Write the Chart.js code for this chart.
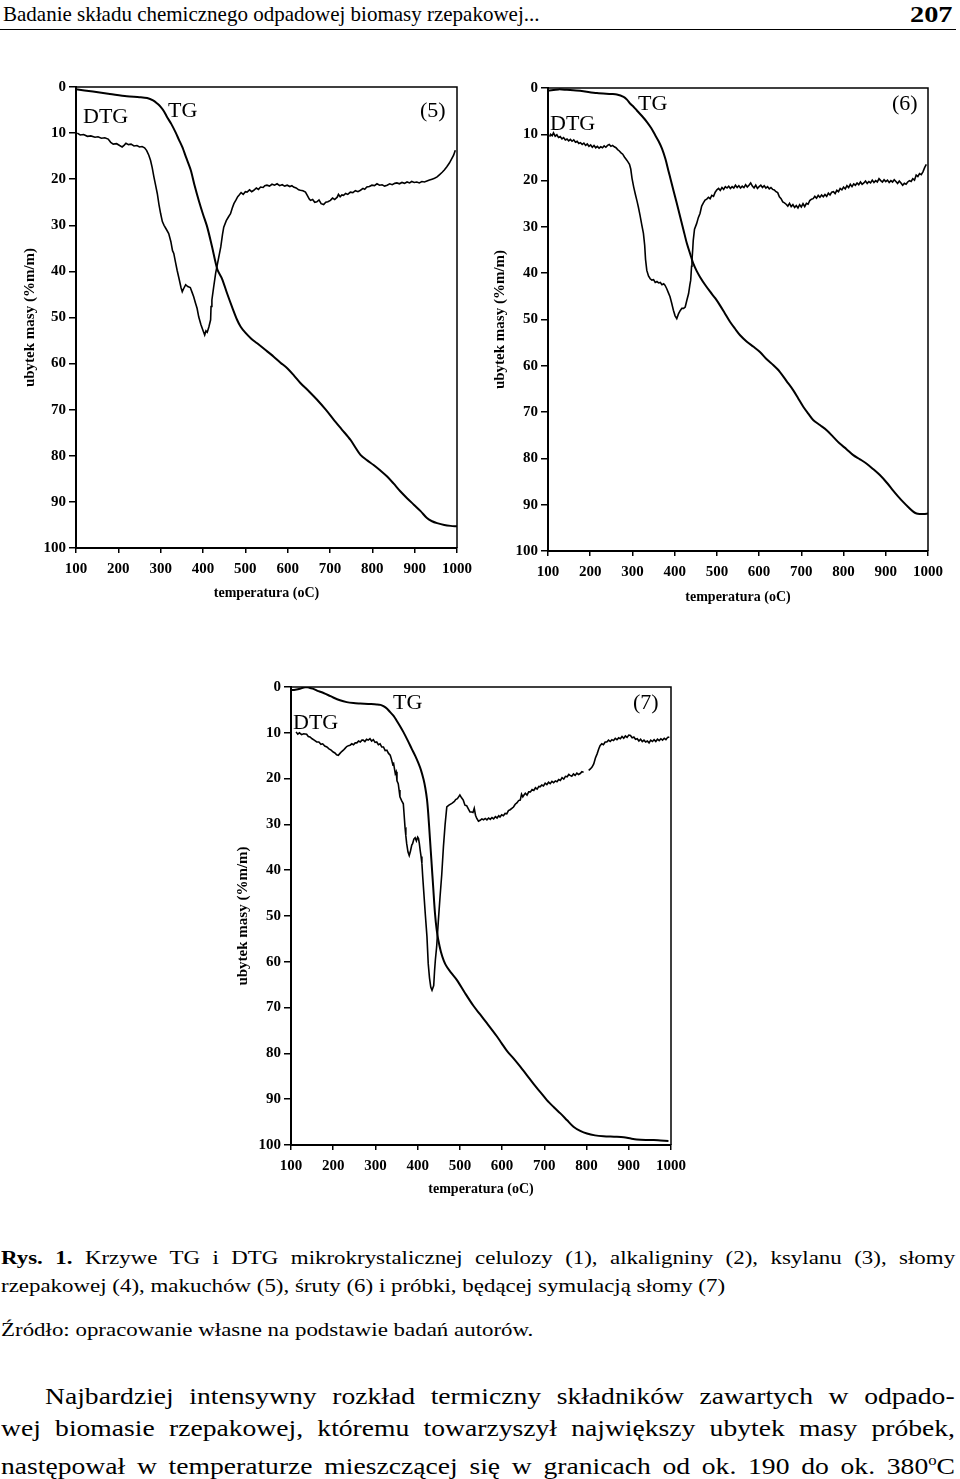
<!DOCTYPE html>
<html>
<head>
<meta charset="utf-8">
<script src="https://cdn.jsdelivr.net/npm/chart.js"></script>
<style>
  html, body { margin: 0; padding: 0; background: #fff; }
  body { width: 960px; height: 1479px; position: relative; overflow: hidden; font-family: "Liberation Serif", "Times New Roman", serif; color: #000; }
  .abs { position: absolute; white-space: nowrap; }
  canvas { position: absolute; }
  .lbl { position: absolute; font-size: 22px; line-height: 22px; white-space: nowrap; }
  #rule { position: absolute; left: 0; top: 29px; width: 956px; height: 0; border-top: 1.5px solid #000; }
  .cap { position: absolute; left: 1px; width: 812px; font-size: 19.5px; line-height: 22px; white-space: nowrap; transform: scaleX(1.175); transform-origin: 0 0; }
  .par { position: absolute; font-size: 23px; line-height: 26px; white-space: nowrap; transform: scaleX(1.2); transform-origin: 0 0; }
  .just { text-align: justify; text-align-last: justify; }
</style>
</head>
<body>
<div class="abs" style="left:3px;top:2px;font-size:21px;line-height:24px;">Badanie składu chemicznego odpadowej biomasy rzepakowej...</div>
<div class="abs" style="left:910px;top:1px;font-size:24px;line-height:27px;font-weight:bold;transform:scaleX(1.18);transform-origin:0 0;">207</div>
<div id="rule"></div>

<canvas id="c5" width="480" height="560" style="left:0px;top:60px;"></canvas>
<canvas id="c6" width="480" height="560" style="left:480px;top:60px;"></canvas>
<canvas id="c7" width="500" height="560" style="left:200px;top:660px;"></canvas>

<div class="lbl" style="left:83px;top:105px;">DTG</div>
<div class="lbl" style="left:168px;top:99px;">TG</div>
<div class="lbl" style="left:420px;top:99px;">(5)</div>

<div class="lbl" style="left:550px;top:112px;">DTG</div>
<div class="lbl" style="left:638px;top:92px;">TG</div>
<div class="lbl" style="left:892px;top:92px;">(6)</div>

<div class="lbl" style="left:293px;top:711px;">DTG</div>
<div class="lbl" style="left:393px;top:691px;">TG</div>
<div class="lbl" style="left:633px;top:691px;">(7)</div>

<div class="cap just" style="top:1247px;"><b>Rys. 1.</b> Krzywe TG i DTG mikrokrystalicznej celulozy (1), alkaligniny (2), ksylanu (3), słomy</div>
<div class="cap" style="top:1275px;">rzepakowej (4), makuchów (5), śruty (6) i próbki, będącej symulacją słomy (7)</div>
<div class="cap" style="top:1319px;">Źródło: opracowanie własne na podstawie badań autorów.</div>
<div class="par just" style="left:45px;top:1384px;width:758px;">Najbardziej intensywny rozkład termiczny składników zawartych w odpado-</div>
<div class="par just" style="left:1px;top:1416px;width:795px;">wej biomasie rzepakowej, któremu towarzyszył największy ubytek masy próbek,</div>
<div class="par just" style="left:1px;top:1448px;width:795px;">następował w temperaturze mieszczącej się w granicach od ok. 190 do ok. 380<sup style="font-size:14px;">o</sup>C</div>

<script>
// tick labels
const tempTicks = [100, 200, 300, 400, 500, 600, 700, 800, 900, 1000];
const lossTicks = [0, 10, 20, 30, 40, 50, 60, 70, 80, 90, 100];

// (5) makuchy
const tg5Temp = [100, 140, 180, 220, 250, 268, 282, 292, 300, 308, 315, 325, 335, 343, 351, 361, 371, 380, 390, 400, 410, 421, 434, 445, 457, 469, 481, 489, 500, 514, 528, 547, 567, 583, 599, 615, 630, 650, 670, 690, 709, 728, 748, 760, 772, 788, 803, 819, 835, 850, 866, 882, 898, 914, 929, 941, 953, 970, 985, 1000];
const tg5Loss = [0.5, 1.0, 1.5, 2.0, 2.2, 2.4, 2.9, 3.6, 4.3, 5.3, 6.5, 8.0, 9.8, 11.4, 13.0, 15.5, 18.0, 21.3, 24.6, 27.6, 30.4, 34.5, 39.6, 41.6, 44.8, 47.8, 50.6, 52.0, 53.3, 54.6, 55.6, 57.0, 58.5, 59.8, 61.0, 62.6, 64.2, 66.0, 67.9, 70.0, 72.2, 74.3, 76.5, 78.2, 79.8, 81.0, 82.0, 83.2, 84.5, 86.0, 87.7, 89.2, 90.6, 92.0, 93.5, 94.2, 94.6, 95.0, 95.2, 95.3];
const dtg5Temp = [103, 110, 118, 127, 135, 145, 152, 160, 168, 176, 182, 188, 196, 203, 209, 214, 218, 224, 230, 237, 244, 250, 256, 262, 267, 272, 276, 280, 284, 288, 292, 296, 300, 304, 308, 313, 319, 324, 328, 331, 335, 339, 344, 348, 351, 355, 359, 364, 370, 374, 378, 382, 386, 390, 395, 400, 404, 407, 410, 414, 418, 419, 421, 425, 430, 436, 442, 446, 449, 455, 460, 465, 469, 473, 478, 482, 485, 490, 495, 500, 504, 510, 515, 520, 526, 531, 536, 542, 546, 551, 557, 563, 569, 575, 581, 587, 593, 599, 605, 610, 614, 620, 626, 630, 636, 642, 647, 651, 654, 659, 664, 669, 674, 679, 685, 690, 695, 701, 706, 711, 717, 720, 724, 728, 732, 737, 742, 748, 754, 760, 766, 772, 778, 782, 787, 793, 799, 805, 811, 817, 823, 829, 835, 841, 847, 853, 858, 864, 870, 876, 882, 888, 893, 899, 905, 911, 917, 923, 929, 935, 941, 947, 953, 959, 965, 970, 976, 982, 988, 992, 996];
const dtg5Loss = [10.0, 10.4, 10.3, 10.7, 10.6, 10.9, 10.8, 11.1, 11.0, 11.3, 12.0, 12.4, 12.3, 12.7, 13.0, 12.6, 12.2, 12.5, 12.4, 12.8, 12.7, 13.0, 12.9, 13.2, 13.8, 14.8, 15.9, 17.5, 19.5, 21.3, 23.1, 25.5, 27.5, 29.2, 30.0, 30.8, 31.8, 33.5, 35.5, 36.1, 38.0, 39.8, 41.8, 43.5, 44.4, 43.6, 42.9, 43.3, 43.5, 44.5, 45.5, 46.8, 48.0, 49.9, 51.5, 52.8, 53.8, 52.9, 53.2, 52.0, 50.5, 47.6, 46.2, 43.5, 40.3, 37.5, 34.7, 32.0, 30.4, 29.0, 28.2, 27.5, 26.3, 25.3, 24.5, 23.8, 23.5, 22.9, 23.3, 22.7, 22.8, 22.3, 22.7, 22.4, 21.9, 22.2, 21.7, 21.8, 21.4, 21.3, 21.5, 21.1, 21.3, 21.0, 21.4, 21.2, 21.5, 21.3, 21.6, 21.4, 21.7, 21.9, 22.3, 22.4, 22.5, 22.8, 23.6, 24.3, 24.6, 24.4, 25.0, 24.9, 24.5, 25.3, 25.5, 25.0, 24.9, 24.6, 24.1, 24.4, 23.9, 23.3, 23.8, 23.4, 23.5, 23.1, 23.3, 22.8, 22.9, 22.5, 22.7, 22.4, 22.0, 22.2, 21.7, 21.6, 21.3, 21.4, 21.0, 21.3, 21.2, 21.5, 21.3, 21.0, 21.2, 20.9, 20.8, 21.0, 20.7, 20.9, 20.6, 20.8, 20.5, 20.7, 20.6, 20.8, 20.5, 20.6, 20.4, 20.2, 20.0, 19.8, 19.5, 19.0, 18.5, 18.0, 17.3, 16.5, 15.5, 14.8, 13.7];

// (6) śruta
const tg6Temp = [100, 125, 145, 176, 216, 250, 263, 279, 287, 295, 303, 310, 322, 334, 344, 354, 362, 370, 378, 385, 391, 397, 405, 413, 421, 429, 437, 444, 452, 460, 472, 484, 496, 507, 519, 531, 543, 555, 571, 587, 602, 618, 634, 649, 665, 681, 693, 705, 717, 728, 744, 760, 776, 791, 807, 823, 839, 854, 870, 886, 902, 917, 929, 941, 953, 965, 973, 980, 990, 1000];
const tg6Loss = [0.6, 0.3, 0.4, 0.6, 1.1, 1.3, 1.4, 1.9, 2.5, 3.4, 4.1, 4.8, 6.0, 7.3, 8.6, 10.2, 11.5, 13.1, 15.3, 17.8, 19.9, 22.1, 24.9, 27.8, 30.7, 33.6, 35.9, 37.9, 39.5, 40.8, 42.5, 44.0, 45.4, 46.9, 48.7, 50.5, 52.0, 53.4, 54.8, 55.9, 57.0, 58.6, 59.9, 61.3, 63.3, 65.3, 67.1, 68.9, 70.4, 71.7, 72.8, 73.9, 75.4, 76.8, 78.0, 79.3, 80.2, 81.1, 82.3, 83.6, 85.2, 86.9, 88.2, 89.4, 90.5, 91.5, 91.9, 92.0, 92.0, 91.9];
const dtg6Temp = [104, 106, 110, 113, 117, 121, 125, 129, 133, 137, 141, 145, 149, 153, 157, 161, 165, 169, 173, 177, 181, 185, 189, 193, 197, 201, 205, 209, 213, 217, 221, 225, 229, 233, 237, 241, 245, 249, 253, 257, 261, 265, 269, 273, 277, 281, 285, 289, 293, 296, 299, 303, 307, 311, 314, 318, 322, 326, 329, 331, 334, 338, 342, 346, 350, 354, 358, 362, 366, 370, 374, 377, 381, 385, 389, 393, 397, 401, 405, 409, 413, 417, 421, 425, 429, 433, 436, 438, 440, 441, 443, 444, 447, 452, 456, 460, 464, 468, 472, 476, 480, 484, 488, 492, 496, 500, 504, 508, 512, 516, 520, 524, 528, 532, 536, 540, 544, 548, 552, 556, 560, 564, 568, 572, 576, 580, 584, 588, 592, 596, 600, 604, 608, 612, 616, 620, 624, 628, 632, 636, 640, 644, 648, 652, 656, 660, 664, 668, 672, 676, 680, 684, 688, 692, 696, 700, 704, 708, 712, 716, 720, 724, 728, 732, 736, 740, 744, 748, 752, 756, 760, 764, 768, 772, 776, 780, 784, 788, 792, 796, 800, 804, 808, 812, 816, 820, 824, 828, 832, 836, 840, 844, 848, 852, 856, 860, 864, 868, 872, 876, 880, 884, 888, 892, 896, 900, 904, 908, 912, 916, 920, 924, 928, 932, 936, 940, 944, 948, 952, 956, 960, 964, 968, 972, 976, 980, 984, 988, 992, 996];
const dtg6Loss = [10.5, 10.0, 10.3, 9.7, 10.4, 10.1, 10.7, 10.5, 11.0, 10.7, 11.2, 11.0, 11.4, 11.1, 11.5, 11.2, 11.7, 11.5, 12.0, 11.8, 12.2, 11.9, 12.4, 12.1, 12.6, 12.3, 12.8, 12.4, 12.9, 12.6, 13.0, 12.7, 12.9, 12.5, 12.8, 12.4, 12.2, 12.6, 12.4, 12.7, 12.9, 13.3, 13.6, 14.0, 14.3, 14.9, 15.4, 15.9, 16.5, 17.5, 19.5, 21.4, 23.0, 24.5, 25.7, 27.5, 29.5, 31.4, 34.0, 37.0, 39.4, 40.6, 41.2, 41.5, 41.4, 42.0, 41.8, 42.1, 42.0, 42.5, 42.3, 42.6, 43.3, 44.2, 45.1, 46.5, 48.0, 49.2, 49.8, 48.8, 48.1, 47.6, 47.6, 47.3, 45.8, 44.4, 42.5, 41.5, 38.5, 37.2, 34.5, 32.9, 30.5, 29.3, 28.0, 27.1, 25.5, 24.8, 24.2, 24.0, 23.6, 23.9, 23.2, 23.4, 22.5, 22.0, 21.7, 22.1, 21.5, 21.9, 21.3, 21.6, 21.2, 21.7, 21.3, 21.6, 21.0, 21.5, 21.1, 21.6, 21.2, 21.5, 20.9, 21.4, 21.0, 20.5, 21.2, 21.6, 21.0, 21.7, 21.3, 21.0, 21.5, 21.1, 21.6, 21.3, 21.8, 21.5, 21.9, 22.0, 22.4, 22.6, 23.5, 23.9, 24.6, 24.8, 25.1, 25.5, 24.9, 25.6, 25.2, 25.8, 25.4, 25.9, 25.2, 25.7, 25.0, 25.6, 24.9, 25.1, 24.3, 24.0, 23.9, 23.4, 23.8, 23.2, 23.6, 23.1, 23.5, 23.0, 23.4, 22.7, 23.1, 22.5, 22.4, 22.8, 22.1, 22.4, 21.7, 22.0, 21.4, 21.8, 21.1, 21.5, 20.8, 21.3, 20.7, 21.0, 20.5, 20.9, 20.3, 20.8, 20.5, 20.1, 20.6, 20.2, 20.5, 19.9, 20.4, 20.0, 20.3, 19.6, 20.0, 20.3, 19.8, 20.2, 19.9, 20.4, 20.0, 20.3, 19.8, 20.2, 20.6, 20.1, 20.5, 21.0, 20.6, 20.8, 20.3, 20.0, 20.2, 19.6, 19.9, 18.8, 19.1, 18.5, 18.7, 18.1, 17.2, 16.5];

// (7) symulacja słomy
const tg7Temp = [100, 110, 121, 130, 137, 145, 153, 165, 177, 189, 200, 216, 232, 248, 264, 283, 303, 312, 319, 327, 335, 343, 350, 358, 366, 376, 386, 394, 402, 408, 414, 418, 422, 425, 429, 433, 437, 441, 445, 449, 455, 462, 469, 481, 493, 512, 532, 548, 564, 587, 599, 611, 627, 643, 659, 674, 690, 706, 722, 738, 754, 769, 785, 801, 820, 840, 865, 888, 905, 919, 940, 959, 975, 994];
const tg7Loss = [0.7, 0.6, 0.4, 0.1, 0.0, 0.2, 0.4, 0.9, 1.3, 1.8, 2.3, 2.9, 3.3, 3.5, 3.6, 3.7, 3.8, 3.9, 4.2, 4.7, 5.5, 6.3, 7.3, 8.5, 9.8, 11.6, 13.5, 15.0, 16.7, 18.2, 20.2, 22.0, 24.5, 27.6, 33.0, 38.5, 44.0, 49.4, 53.0, 55.3, 57.8, 59.8, 61.1, 62.6, 64.0, 66.8, 69.6, 71.5, 73.4, 76.2, 77.8, 79.4, 81.1, 82.9, 84.8, 86.6, 88.4, 90.2, 91.7, 93.1, 94.6, 96.0, 96.9, 97.5, 97.9, 98.1, 98.2, 98.3, 98.6, 98.8, 98.9, 98.9, 99.0, 99.1];
const dtg7Temp = [112, 116, 120, 125, 130, 137, 141, 145, 150, 155, 161, 166, 171, 175, 180, 185, 190, 195, 200, 204, 208, 212, 216, 220, 224, 228, 232, 236, 240, 244, 248, 252, 256, 260, 264, 268, 271, 275, 279, 283, 287, 291, 295, 299, 303, 307, 311, 315, 319, 323, 327, 331, 335, 338, 341, 343, 345, 347, 349, 351, 354, 356, 358, 362, 366, 368, 370, 372, 374, 377, 380, 383, 386, 388, 391, 394, 397, 400, 402, 404, 406, 408, 410, 412, 415, 418, 422, 425, 428, 431, 434, 436, 438, 440, 442, 445, 449, 453, 457, 461, 465, 469, 474, 481, 487, 490, 494, 497, 500, 504, 508, 512, 516, 520, 524, 528, 531, 534, 537, 540, 544, 548, 552, 556, 560, 564, 568, 572, 576, 580, 584, 588, 592, 595, 599, 603, 607, 611, 615, 619, 623, 627, 631, 635, 639, 643, 646, 649, 651, 655, 659, 663, 667, 671, 675, 679, 683, 687, 690, 694, 698, 702, 706, 710, 714, 718, 722, 726, 730, 734, 738, 742, 746, 750, 754, 758, 761, 765, 769, 773, 777, 781, 785, 789, 793, 799, 805, 809, 813, 817, 821, 825, 829, 832, 836, 840, 844, 848, 852, 856, 860, 864, 868, 872, 876, 880, 884, 888, 892, 896, 900, 904, 908, 912, 916, 920, 924, 928, 932, 936, 940, 944, 948, 952, 956, 960, 964, 968, 972, 976, 980, 984, 988, 992, 996];
const dtg7Loss = [9.8, 10.3, 10.0, 10.4, 10.2, 10.3, 10.8, 10.9, 11.3, 11.6, 12.0, 12.0, 12.5, 12.4, 12.9, 13.1, 13.5, 13.8, 14.2, 14.4, 14.8, 14.9, 14.5, 14.1, 13.8, 13.4, 13.0, 12.8, 12.7, 12.4, 12.6, 12.2, 12.2, 11.8, 12.0, 11.6, 11.6, 11.9, 11.4, 11.6, 11.3, 11.8, 11.5, 12.1, 12.0, 12.6, 12.4, 13.1, 13.1, 13.9, 13.8, 14.5, 14.9, 15.8, 16.9, 16.7, 17.8, 18.9, 18.5, 20.5, 21.1, 22.5, 24.0, 24.8, 25.5, 28.0, 30.6, 32.5, 34.2, 36.0, 36.8, 35.8, 34.5, 34.2, 33.2, 32.9, 33.6, 32.8, 33.1, 34.2, 35.7, 37.0, 38.5, 41.5, 45.5, 49.5, 54.5, 60.4, 63.5, 65.5, 66.2, 66.2, 65.2, 62.0, 59.5, 56.7, 51.0, 45.8, 41.0, 34.9, 30.0, 26.2, 25.8, 25.4, 25.0, 24.6, 24.4, 24.0, 23.6, 24.2, 24.7, 25.8, 25.9, 26.6, 27.3, 27.3, 27.4, 26.5, 28.0, 28.7, 29.3, 29.1, 28.8, 29.0, 28.7, 29.0, 28.6, 28.9, 28.5, 28.8, 28.3, 28.6, 28.1, 28.4, 27.9, 28.1, 27.6, 27.7, 27.0, 26.8, 26.5, 26.2, 25.6, 25.3, 24.8, 24.7, 23.4, 24.0, 23.7, 23.2, 23.6, 22.9, 22.9, 22.4, 22.6, 22.0, 22.3, 21.7, 21.8, 21.4, 21.6, 21.0, 21.3, 20.8, 21.1, 20.6, 20.9, 20.5, 20.7, 20.2, 20.4, 19.8, 20.1, 19.5, 19.6, 19.1, 19.3, 19.5, 19.0, 19.3, 18.8, 19.1, 18.9, 18.5, 18.6, null, 18.2, 17.9, 17.5, 16.8, 15.5, 14.6, 13.5, 12.8, 12.4, 12.6, 12.0, 12.0, 11.6, 11.9, 11.5, 11.7, 11.2, 11.5, 11.1, 11.3, 10.8, 11.2, 10.7, 11.0, 10.5, 10.6, 11.1, 10.9, 11.4, 11.3, 11.8, 11.4, 11.9, 11.6, 12.0, 11.8, 12.2, 11.6, 11.9, 11.5, 11.9, 11.4, 11.7, 11.3, 11.6, 11.2, 11.5, 11.0, 10.9];

function pts(xs, ys) {
  return xs.map((x, i) => ({ x: x, y: ys[i] }));
}

const framePlugin = {
  id: 'frame',
  afterDatasetsDraw(chart) {
    const a = chart.chartArea;
    const ctx = chart.ctx;
    ctx.save();
    ctx.strokeStyle = '#000';
    ctx.lineWidth = 1.5;
    ctx.beginPath();
    ctx.moveTo(a.left, a.top);
    ctx.lineTo(a.right, a.top);
    ctx.lineTo(a.right, a.bottom);
    ctx.stroke();
    ctx.restore();
  }
};

const tickFont = { family: 'Liberation Serif', size: 15, weight: 'bold' };
const xTitleFont = { family: 'Liberation Serif', size: 14, weight: 'bold' };
const yTitleFont = { family: 'Liberation Serif', size: 15, weight: 'bold' };

function makeChart(id, tgT, tgL, dtgT, dtgL, lay) {
  const ctx = document.getElementById(id).getContext('2d');
  return new Chart(ctx, {
    type: 'line',
    data: {
      datasets: [
        {
          label: 'TG',
          data: pts(tgT, tgL),
          borderColor: '#000',
          borderWidth: 2,
          pointRadius: 0,
          tension: 0.3,
          fill: false
        },
        {
          label: 'DTG',
          data: pts(dtgT, dtgL),
          borderColor: '#000',
          borderWidth: 1.6,
          pointRadius: 0,
          tension: 0,
          spanGaps: false,
          fill: false
        }
      ]
    },
    options: {
      responsive: false,
      animation: false,
      layout: { padding: { left: 0, top: lay.top, right: lay.right, bottom: 0 } },
      plugins: { legend: { display: false }, tooltip: { enabled: false } },
      scales: {
        x: {
          type: 'linear',
          min: 100,
          max: 1000,
          afterFit: (s) => { s.height = lay.xh; },
          afterBuildTicks: (s) => { s.ticks = tempTicks.map(v => ({ value: v })); },
          ticks: { autoSkip: false, maxRotation: 0, padding: 7, color: '#000', font: tickFont, callback: (v) => String(v) },
          grid: { drawOnChartArea: false, drawTicks: true, tickLength: 5, color: '#000', lineWidth: 1.5 },
          border: { display: true, color: '#000', width: 2 },
          title: { display: true, text: 'temperatura (oC)', color: '#000', font: xTitleFont, padding: { top: 0, bottom: lay.xtb } }
        },
        y: {
          type: 'linear',
          reverse: true,
          min: 0,
          max: 100,
          afterFit: (s) => { s.width = lay.yw; },
          afterBuildTicks: (s) => { s.ticks = lossTicks.map(v => ({ value: v })); },
          ticks: { autoSkip: false, padding: 3, color: '#000', font: tickFont, callback: (v) => String(v) },
          grid: { drawOnChartArea: false, drawTicks: true, tickLength: 7, color: '#000', lineWidth: 1.5 },
          border: { display: true, color: '#000', width: 2 },
          title: { display: true, text: 'ubytek masy (%m/m)', color: '#000', font: yTitleFont, padding: { top: lay.ytp, bottom: 0 } }
        }
      }
    },
    plugins: [framePlugin]
  });
}

makeChart('c5', tg5Temp, tg5Loss, dtg5Temp, dtg5Loss, { top: 27, right: 23, yw: 76, xh: 72, xtb: 18, ytp: 21 });
makeChart('c6', tg6Temp, tg6Loss, dtg6Temp, dtg6Loss, { top: 28, right: 32, yw: 68, xh: 69, xtb: 14, ytp: 11 });
makeChart('c7', tg7Temp, tg7Loss, dtg7Temp, dtg7Loss, { top: 27, right: 29, yw: 91, xh: 75, xtb: 22, ytp: 34 });
</script>
</body>
</html>
